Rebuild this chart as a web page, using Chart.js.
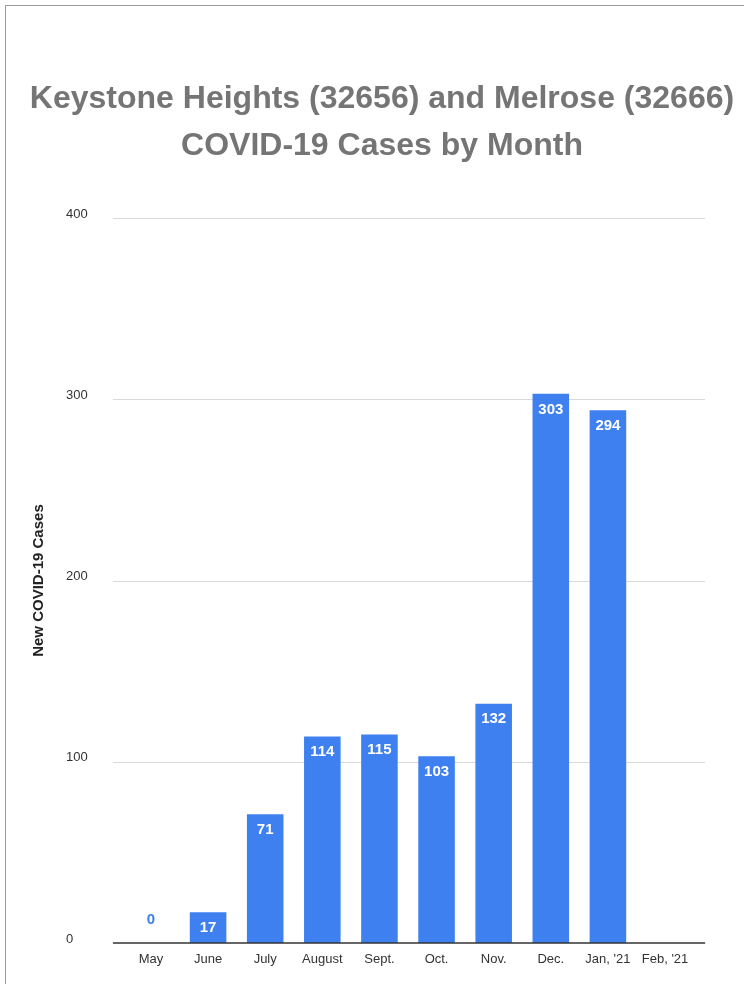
<!DOCTYPE html>
<html>
<head>
<meta charset="utf-8">
<script src="https://cdn.jsdelivr.net/npm/chart.js@4"></script>
<style>
  html, body { margin: 0; padding: 0; background: #fff; overflow: hidden; }
  body { width: 748px; height: 984px; position: relative; }
  #frame { position: absolute; left: 5px; top: 5px; width: 738px; height: 990px;
           border-left: 1px solid #9a9a9a; border-top: 1px solid #9a9a9a; }
  #wrap { position: absolute; left: 6px; top: 6px; width: 752px; height: 978px; }
</style>
</head>
<body>
<div id="frame"></div>
<div id="wrap"><canvas id="chart"></canvas></div>
<script>
const months = ["May", "June", "July", "August", "Sept.", "Oct.", "Nov.", "Dec.", "Jan, '21", "Feb, '21"];
const newCases = [0, 17, 71, 114, 115, 103, 132, 303, 294, null];
const yTicks = [0, 100, 200, 300, 400];
const titleLines = ["Keystone Heights (32656) and Melrose (32666)", "COVID-19 Cases by Month"];
const yTitle = "New COVID-19 Cases";

const FONT = "'Liberation Sans', Arial, Helvetica, sans-serif";
const BAR = "#3f80f0";

// grid lines drawn a bit past the plot area, like the original
const gridPlugin = {
  id: "grid",
  beforeDatasetsDraw(chart) {
    const { ctx, chartArea, scales } = chart;
    ctx.save();
    ctx.strokeStyle = "#d9d9d9";
    ctx.lineWidth = 1;
    for (const v of yTicks) {
      if (v === 0) continue;
      const y = Math.round(scales.y.getPixelForValue(v)) + 0.5;
      ctx.beginPath();
      ctx.moveTo(chartArea.left - 9.5, y);
      ctx.lineTo(chartArea.right + 11.5, y);
      ctx.stroke();
    }
    ctx.restore();
  },
  afterDatasetsDraw(chart) {
    const { ctx, chartArea, scales } = chart;
    const y = scales.y.getPixelForValue(0);
    ctx.save();
    ctx.strokeStyle = "#333";
    ctx.lineWidth = 1.5;
    ctx.beginPath();
    ctx.moveTo(chartArea.left - 9.5, y);
    ctx.lineTo(chartArea.right + 11.5, y);
    ctx.stroke();
    ctx.restore();
  }
};

// value labels on the bars
const labelPlugin = {
  id: "barLabels",
  afterDatasetsDraw(chart) {
    const { ctx } = chart;
    const meta = chart.getDatasetMeta(0);
    ctx.save();
    ctx.font = "bold 15px " + FONT;
    ctx.textAlign = "center";
    ctx.textBaseline = "middle";
    meta.data.forEach((bar, i) => {
      const v = newCases[i];
      if (v === null || v === undefined) return;
      if (v > 0) {
        ctx.fillStyle = "#ffffff";
        ctx.fillText(String(v), bar.x, bar.y + 15.5);
      } else {
        ctx.fillStyle = BAR;
        ctx.fillText(String(v), bar.x, bar.y - 23);
      }
    });
    ctx.restore();
  }
};

// empty axes used only as spacers so the title keeps the full width
const spacer = (position, width) => ({
  type: "linear",
  position: position,
  weight: 10,
  display: true,
  grid: { display: false, drawTicks: false },
  border: { display: false },
  ticks: { display: false },
  afterFit(scale) { scale.width = width; }
});

new Chart(document.getElementById("chart"), {
  type: "bar",
  data: {
    labels: months,
    datasets: [{
      label: yTitle,
      data: newCases,
      backgroundColor: BAR,
      borderWidth: 0,
      barPercentage: 0.64,
      categoryPercentage: 1.0
    }]
  },
  options: {
    responsive: true,
    maintainAspectRatio: false,
    animation: false,
    layout: { padding: 0 },
    plugins: {
      legend: { display: false },
      tooltip: { enabled: false },
      title: {
        display: true,
        text: titleLines,
        color: "#757575",
        font: { family: FONT, size: 32, weight: "bold", lineHeight: 1.47 },
        padding: { top: 69.5, bottom: 48.5 }
      }
    },
    scales: {
      x: {
        grid: { display: false, drawTicks: false },
        border: { display: false },
        ticks: {
          color: "#333",
          font: { family: FONT, size: 13 },
          padding: 9,
          maxRotation: 0,
          autoSkip: false
        },
        afterFit(scale) { scale.height = 41; }
      },
      y: {
        min: 0,
        max: 400,
        afterBuildTicks(scale) { scale.ticks = yTicks.map(v => ({ value: v })); },
        grid: { display: false, drawTicks: false },
        border: { display: false },
        ticks: {
          color: "#333",
          font: { family: FONT, size: 13 },
          crossAlign: "far",
          padding: 10,
          labelOffset: -4
        },
        title: {
          display: true,
          text: yTitle,
          color: "#222",
          font: { family: FONT, size: 15, weight: "bold" },
          padding: { top: -36, bottom: 0 }
        },
        afterFit(scale) { scale.width = 56.4; }
      },
      padLeft: spacer("left", 60),
      padRight: spacer("right", 64.4)
    }
  },
  plugins: [gridPlugin, labelPlugin]
});
</script>
</body>
</html>
